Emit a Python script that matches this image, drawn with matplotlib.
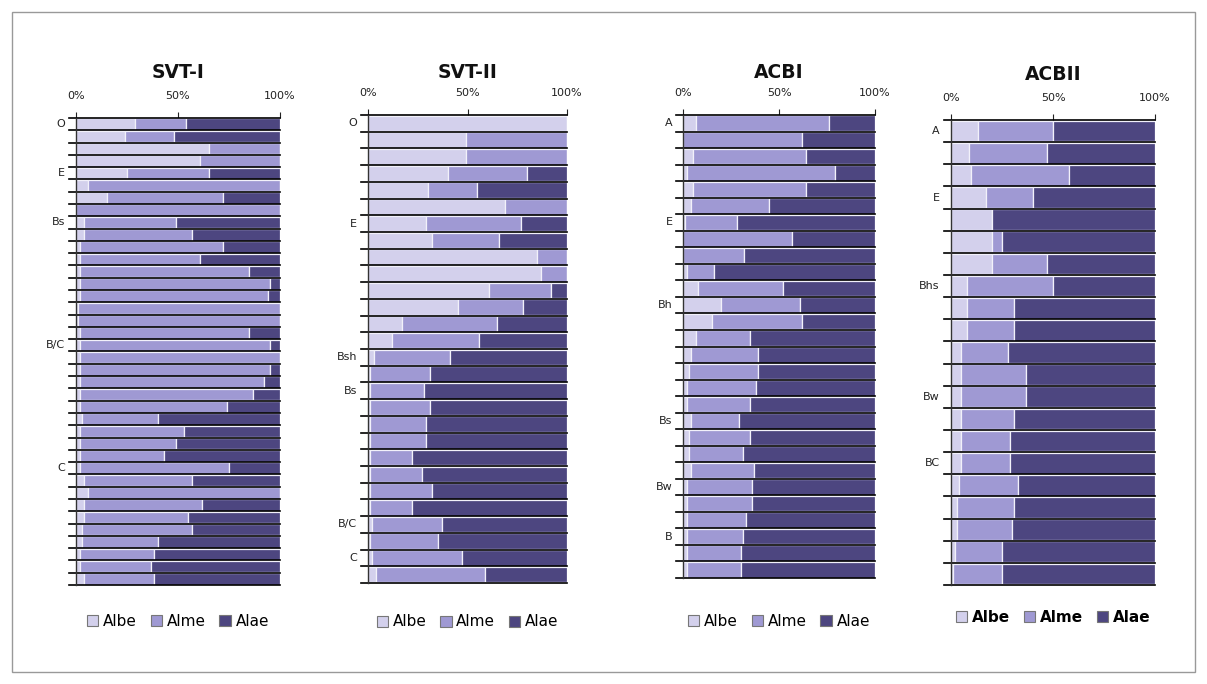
import matplotlib
matplotlib.use("Agg")
import matplotlib.pyplot as plt
from matplotlib.patches import Patch, Rectangle
import matplotlib.transforms as mtransforms

# ---------------- data ----------------
series_names = ["Albe", "Alme", "Alae"]

svt1_albe = [29, 24, 65, 61, 25, 6, 15, 0, 4, 4, 2, 2, 2, 2, 2, 1, 1, 2, 2, 2, 2, 2, 2, 2, 3, 2, 2, 2, 2, 4, 6, 4, 4, 3, 3, 2, 2, 4]
svt1_alme = [25, 24, 35, 39, 40, 94, 57, 100, 45, 53, 70, 59, 83, 93, 92, 99, 99, 83, 93, 98, 93, 90, 85, 72, 37, 51, 47, 41, 73, 53, 94, 58, 51, 54, 37, 36, 35, 34]
svt1_alae = [46, 52, 0, 0, 35, 0, 28, 0, 51, 43, 28, 39, 15, 5, 6, 0, 0, 15, 5, 0, 5, 8, 13, 26, 60, 47, 51, 57, 25, 43, 0, 38, 45, 43, 60, 62, 63, 62]
svt1_horizons = {0: "O", 4: "E", 8: "Bs", 18: "B/C", 28: "C"}

svt2_albe = [100, 49, 49, 40, 30, 69, 29, 32, 85, 87, 61, 45, 17, 12, 3, 1, 1, 1, 1, 1, 1, 1, 1, 1, 2, 1, 2, 4]
svt2_alme = [0, 51, 51, 40, 25, 31, 48, 34, 15, 13, 31, 33, 48, 44, 38, 30, 27, 30, 28, 28, 21, 26, 31, 21, 35, 34, 45, 55]
svt2_alae = [0, 0, 0, 20, 45, 0, 23, 34, 0, 0, 8, 22, 35, 44, 59, 69, 72, 69, 71, 71, 78, 73, 68, 78, 63, 65, 53, 41]
svt2_horizons = {0: "O", 6: "E", 14: "Bsh", 16: "Bs", 24: "B/C", 26: "C"}

acb1_albe = [7, 0, 5, 2, 5, 4, 1, 0, 0, 2, 8, 20, 15, 7, 4, 3, 2, 2, 4, 3, 3, 4, 2, 2, 2, 2, 2, 2]
acb1_alme = [69, 62, 59, 77, 59, 41, 27, 57, 32, 14, 44, 41, 47, 28, 35, 36, 36, 33, 25, 32, 28, 33, 34, 34, 31, 29, 28, 28]
acb1_alae = [24, 38, 36, 21, 36, 55, 72, 43, 68, 84, 48, 39, 38, 65, 61, 61, 62, 65, 71, 65, 69, 63, 64, 64, 67, 69, 70, 70]
acb1_horizons = {0: "A", 6: "E", 11: "Bh", 18: "Bs", 22: "Bw", 25: "B"}

acb2_albe = [13, 9, 10, 17, 20, 20, 20, 8, 8, 8, 5, 5, 5, 5, 5, 5, 4, 3, 3, 2, 1]
acb2_alme = [37, 38, 48, 23, 0, 5, 27, 42, 23, 23, 23, 32, 32, 26, 24, 24, 29, 28, 27, 23, 24]
acb2_alae = [50, 53, 42, 60, 80, 75, 53, 50, 69, 69, 72, 63, 63, 69, 71, 71, 67, 69, 70, 75, 75]
acb2_horizons = {0: "A", 3: "E", 7: "Bhs", 12: "Bw", 15: "BC"}

x_ticks = [0, 50, 100]
x_tick_labels = ["0%", "50%", "100%"]

colors = ["#d3d0ec", "#9f99d3", "#4d4680"]

# ---------------- layout ----------------
W, H = 1207, 684
fig = plt.figure(figsize=(W / 100, H / 100), dpi=100)
plt.rcParams["font.family"] = ["DejaVu Sans"]

def px_axes(x0, x1, y0, y1):
    return fig.add_axes([x0 / W, 1 - y1 / H, (x1 - x0) / W, (y1 - y0) / H])

panels = [
    ("SVT-I", svt1_albe, svt1_alme, svt1_alae, svt1_horizons, (76, 280, 118, 585), 72, 621, "normal"),
    ("SVT-II", svt2_albe, svt2_alme, svt2_alae, svt2_horizons, (368, 567, 115, 583), 72, 622, "normal"),
    ("ACBI", acb1_albe, acb1_alme, acb1_alae, acb1_horizons, (683, 875, 115, 578), 72, 621, "normal"),
    ("ACBII", acb2_albe, acb2_alme, acb2_alae, acb2_horizons, (951, 1155, 120, 585), 75, 617, "bold"),
]

for title, albe, alme, alae, horizons, (x0, x1, y0, y1), ty, ly, lw in panels:
    ax = px_axes(x0, x1, y0, y1)
    n = len(albe)
    ys = list(range(n))
    left = [0] * n
    for vals, c in zip((albe, alme, alae), colors):
        ax.barh(ys, vals, left=left, height=0.94, color=c,
                edgecolor="#f2f1fa", linewidth=0.9, zorder=2)
        left = [l + v for l, v in zip(left, vals)]
    ax.set_xlim(0, 100)
    ax.set_ylim(n - 0.5, -0.5)
    # separators between rows
    trans = mtransforms.blended_transform_factory(ax.transAxes, ax.transData)
    for b in range(n + 1):
        yb = b - 0.5
        ax.plot([-0.035, 1.0], [yb, yb], color="black", lw=1.2,
                transform=trans, clip_on=False, zorder=3)
    # top axis ticks
    ax.xaxis.tick_top()
    ax.set_xticks(x_ticks)
    ax.set_xticklabels(x_tick_labels, fontsize=8, color="#222222")
    ax.tick_params(axis="x", length=4, width=0.8, pad=8, colors="#222222")
    ax.set_yticks([])
    for s in ("top", "right", "bottom"):
        ax.spines[s].set_visible(False)
    ax.spines["left"].set_color("#333333")
    ax.spines["left"].set_linewidth(1.0)
    ax.spines["left"].set_zorder(4)
    for idx, lab in horizons.items():
        ax.text(-0.055, idx, lab, transform=trans, ha="right", va="center",
                fontsize=8, color="#222222")
    # title
    fig.text((x0 + x1) / 2 / W, 1 - ty / H, title, ha="center", va="center",
             fontsize=13.5, fontweight="bold", color="#111111")
    # legend
    handles = [Patch(facecolor=c, edgecolor="#777777", linewidth=0.8) for c in colors]
    fig.legend(handles, series_names, loc="center",
               bbox_to_anchor=((x0 + x1) / 2 / W, 1 - ly / H), ncol=3,
               frameon=False, handlelength=0.75, handleheight=0.75,
               handletextpad=0.3, columnspacing=0.9,
               prop={"size": 11, "weight": lw})

# outer frame
fig.patches.append(Rectangle((12 / W, 12 / H), 1 - 24 / W, 1 - 24 / H,
                             transform=fig.transFigure, fill=False,
                             edgecolor="#999999", linewidth=1.0))

fig.savefig("out.png", dpi=100)
